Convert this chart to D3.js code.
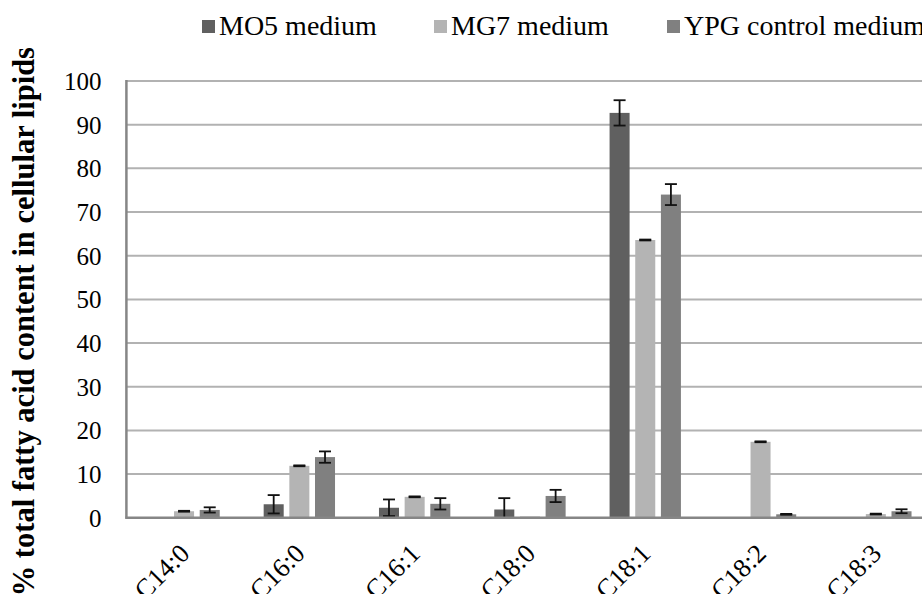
<!DOCTYPE html>
<html>
<head>
<meta charset="utf-8">
<script src="https://cdn.jsdelivr.net/npm/d3@7"></script>
<style>
  html, body { margin: 0; padding: 0; background: #fff; }
  svg text { font-family: "Liberation Serif", "Times New Roman", "DejaVu Serif", serif !important; }
</style>
</head>
<body>
<svg id="chart" width="922" height="594"></svg>
<script>
// Fatty acid profile of cellular lipids per growth medium (% of total)
const categories = ["C14:0", "C16:0", "C16:1", "C18:0", "C18:1", "C18:2", "C18:3"];
const seriesNames = ["MO5 medium", "MG7 medium", "YPG control medium"];
const seriesColors = ["#606060", "#b4b4b4", "#808080"];

const mo5Values = [0, 3.1, 2.3, 1.9, 92.7, 0, 0];
const mo5Errors = [0, 2.1, 1.9, 2.6, 2.9, 0, 0];
const mg7Values = [1.5, 11.9, 4.8, 0.3, 63.6, 17.4, 0.85];
const mg7Errors = [0.1, 0.1, 0.1, 0, 0.1, 0.1, 0.1];
const ypgValues = [1.8, 13.9, 3.2, 5.0, 74.0, 0.8, 1.5];
const ypgErrors = [0.6, 1.3, 1.3, 1.4, 2.4, 0.1, 0.45];

const yTicks = [0, 10, 20, 30, 40, 50, 60, 70, 80, 90, 100];
const yTitle = "% total fatty acid content in cellular lipids";

const seriesValues = [mo5Values, mg7Values, ypgValues];
const seriesErrors = [mo5Errors, mg7Errors, ypgErrors];

const rows = [];
categories.forEach((c, i) => {
  seriesNames.forEach((s, j) => {
    rows.push({ cat: c, series: s, idx: j, v: seriesValues[j][i], e: seriesErrors[j][i] });
  });
});

const FONT = "'Liberation Serif', 'Times New Roman', 'DejaVu Serif', serif";
const svg = d3.select("#chart");
const W = 922, H = 594;
const plot = { left: 126.4, top: 81, bottom: 517.8 };
const step = 115.3;

const x0 = d3.scaleBand().domain(categories)
  .range([plot.left, plot.left + step * categories.length])
  .paddingInner(0).paddingOuter(0);
const x1 = d3.scaleBand().domain(seriesNames)
  .range([-38.5, 38.5]).paddingInner(0.22).paddingOuter(0.11);
const y = d3.scaleLinear().domain([0, 100]).range([plot.bottom, plot.top]);

// horizontal gridlines
svg.append("g").selectAll("line").data(yTicks.filter(t => t > 0)).join("line")
  .attr("x1", plot.left).attr("x2", W)
  .attr("y1", d => y(d)).attr("y2", d => y(d))
  .attr("stroke", "#b2b2b2").attr("stroke-width", 2);

// y axis tick labels
const yAxis = d3.axisLeft(y).tickValues(yTicks).tickSize(0).tickPadding(25);
const gy = svg.append("g").attr("transform", `translate(${plot.left},0)`).call(yAxis);
gy.attr("font-family", FONT).attr("font-size", 25);
gy.select(".domain").remove();
gy.selectAll("text")
  .style("font-family", FONT)
  .attr("font-size", 25).attr("fill", "#000").attr("dy", "0.34em");

// bars
const cx = d => x0(d.cat) + x0.bandwidth() / 2 + x1(d.series);
svg.append("g").selectAll("rect").data(rows).join("rect")
  .attr("x", d => cx(d))
  .attr("width", x1.bandwidth())
  .attr("y", d => y(d.v))
  .attr("height", d => y(0) - y(d.v))
  .attr("fill", d => seriesColors[d.idx]);

// error bars
const eb = svg.append("g").attr("stroke", "#111").attr("stroke-width", 1.8);
const withErr = rows.filter(d => d.v > 0 && d.e > 0);
const mid = d => cx(d) + x1.bandwidth() / 2;
eb.selectAll("line.v").data(withErr).join("line").attr("class", "v")
  .attr("x1", mid).attr("x2", mid)
  .attr("y1", d => y(d.v + d.e)).attr("y2", d => y(Math.max(0, d.v - d.e)));
eb.selectAll("line.t").data(withErr).join("line").attr("class", "t")
  .attr("x1", d => mid(d) - 6).attr("x2", d => mid(d) + 6)
  .attr("y1", d => y(d.v + d.e)).attr("y2", d => y(d.v + d.e));
eb.selectAll("line.b").data(withErr.filter(d => d.v - d.e > 0)).join("line").attr("class", "b")
  .attr("x1", d => mid(d) - 6).attr("x2", d => mid(d) + 6)
  .attr("y1", d => y(d.v - d.e)).attr("y2", d => y(d.v - d.e));

// axis lines
svg.append("line").attr("x1", plot.left).attr("x2", plot.left)
  .attr("y1", y(100) - 1).attr("y2", y(0) + 1)
  .attr("stroke", "#868686").attr("stroke-width", 2.5);
svg.append("line").attr("x1", plot.left - 1).attr("x2", W)
  .attr("y1", y(0)).attr("y2", y(0))
  .attr("stroke", "#868686").attr("stroke-width", 2.5);

// category labels, rotated
svg.append("g").selectAll("text").data(categories).join("text")
  .attr("transform", d => `translate(${x0(d) + x0.bandwidth() / 2 + 7},555) rotate(-45)`)
  .attr("text-anchor", "end")
  .style("font-family", FONT)
  .attr("font-size", 26.5)
  .attr("fill", "#000")
  .text(d => d);

// y axis title
svg.append("text")
  .attr("transform", "translate(34,47) rotate(-90)")
  .attr("text-anchor", "end")
  .style("font-family", FONT)
  .attr("font-size", 30.5)
  .attr("font-weight", "bold")
  .attr("fill", "#000")
  .text(yTitle);

// legend
const legendX = [202, 434, 667];
const lg = svg.append("g").selectAll("g").data(seriesNames).join("g")
  .attr("transform", (d, i) => `translate(${legendX[i]},0)`);
lg.append("rect").attr("x", 0).attr("y", 20).attr("width", 13).attr("height", 13)
  .attr("fill", (d, i) => seriesColors[i]);
lg.append("text").attr("x", 17).attr("y", 35)
  .style("font-family", FONT)
  .attr("font-size", 28).attr("fill", "#000")
  .text(d => d);
</script>
</body>
</html>
